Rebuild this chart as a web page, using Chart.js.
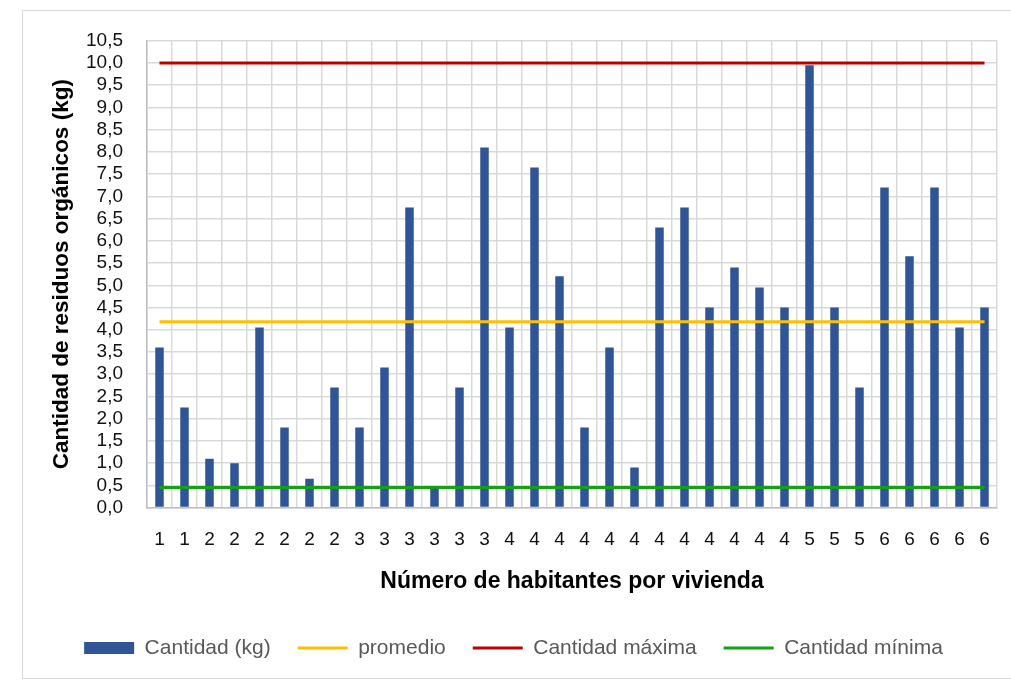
<!DOCTYPE html>
<html>
<head>
<meta charset="utf-8">
<script src="https://cdn.jsdelivr.net/npm/chart.js@4/dist/chart.umd.min.js"></script>
<style>
    html, body { margin: 0; padding: 0; background: #fff; }
    #wrap { position: relative; width: 1011px; height: 681px; }
</style>
</head>
<body>
<div id="wrap"><canvas id="chart"></canvas></div>
<script>
const habitantes = ['1', '1', '2', '2', '2', '2', '2', '2', '3', '3', '3', '3', '3', '3',
    '4', '4', '4', '4', '4', '4', '4', '4', '4', '4', '4', '4', '5', '5', '5', '6', '6', '6', '6', '6'];

const cantidad = [3.6, 2.25, 1.1, 1.0, 4.05, 1.8, 0.65, 2.7, 1.8, 3.15, 6.75, 0.45, 2.7, 8.1,
    4.05, 7.65, 5.2, 1.8, 3.6, 0.9, 6.3, 6.75, 4.5, 5.4, 4.95, 4.5, 9.95, 4.5, 2.7, 7.2,
    5.65, 7.2, 4.05, 4.5];

const promedio = [4.18, 4.18, 4.18, 4.18, 4.18, 4.18, 4.18, 4.18, 4.18, 4.18, 4.18, 4.18,
    4.18, 4.18, 4.18, 4.18, 4.18, 4.18, 4.18, 4.18, 4.18, 4.18, 4.18, 4.18, 4.18, 4.18,
    4.18, 4.18, 4.18, 4.18, 4.18, 4.18, 4.18, 4.18];

const maxima = [10, 10, 10, 10, 10, 10, 10, 10, 10, 10, 10, 10, 10, 10, 10, 10, 10,
    10, 10, 10, 10, 10, 10, 10, 10, 10, 10, 10, 10, 10, 10, 10, 10, 10];

const minima = [0.45, 0.45, 0.45, 0.45, 0.45, 0.45, 0.45, 0.45, 0.45, 0.45, 0.45, 0.45,
    0.45, 0.45, 0.45, 0.45, 0.45, 0.45, 0.45, 0.45, 0.45, 0.45, 0.45, 0.45, 0.45, 0.45,
    0.45, 0.45, 0.45, 0.45, 0.45, 0.45, 0.45, 0.45];

const fontFamily = "'Liberation Sans', Arial, sans-serif";
const gridColor = '#d9d9d9';

// light frame round the whole chart, like the Excel chart area
const framePlugin = {
    id: 'frame',
    beforeDraw(chart) {
        const ctx = chart.ctx;
        ctx.save();
        ctx.strokeStyle = '#d9d9d9';
        ctx.lineWidth = 1;
        ctx.strokeRect(22.5, 10.5, 990, 668);
        ctx.restore();
    }
};

new Chart(document.getElementById('chart'), {
    type: 'bar',
    data: {
        labels: habitantes,
        datasets: [
            {
                label: 'Cantidad (kg)',
                data: cantidad,
                backgroundColor: '#2f5597',
                borderWidth: 0,
                barPercentage: 0.34,
                categoryPercentage: 1,
                order: 1
            },
            {
                type: 'line',
                label: 'promedio',
                data: promedio,
                borderColor: '#ffc000',
                backgroundColor: '#ffc000',
                borderWidth: 3,
                pointRadius: 0,
                order: 0
            },
            {
                type: 'line',
                label: 'Cantidad máxima',
                data: maxima,
                borderColor: '#c00000',
                backgroundColor: '#c00000',
                borderWidth: 3,
                pointRadius: 0,
                order: 0
            },
            {
                type: 'line',
                label: 'Cantidad mínima',
                data: minima,
                borderColor: '#12a312',
                backgroundColor: '#12a312',
                borderWidth: 3,
                pointRadius: 0,
                order: 0
            }
        ]
    },
    options: {
        responsive: true,
        maintainAspectRatio: false,
        animation: false,
        layout: { padding: { left: 30, right: 14, top: 40.7, bottom: 12.5 } },
        plugins: {
            tooltip: { enabled: false },
            legend: {
                position: 'bottom',
                labels: {
                    usePointStyle: true,
                    pointStyleWidth: 50,
                    boxHeight: 12,
                    padding: 27,
                    color: '#595959',
                    font: { family: fontFamily, size: 21 },
                    generateLabels: chart => chart.data.datasets.map((ds, i) => ({
                        text: ds.label,
                        fillStyle: ds.backgroundColor,
                        strokeStyle: ds.type === 'line' ? ds.borderColor : ds.backgroundColor,
                        lineWidth: ds.type === 'line' ? 3 : 0,
                        pointStyle: ds.type === 'line' ? 'line' : 'rect',
                        fontColor: '#595959',
                        hidden: false,
                        datasetIndex: i
                    }))
                }
            }
        },
        scales: {
            x: {
                grid: { color: gridColor, lineWidth: 1.5, drawTicks: false, offset: true },
                border: { color: '#bfbfbf', width: 1.5 },
                ticks: {
                    autoSkip: false,
                    maxRotation: 0,
                    padding: 20.5,
                    color: '#111',
                    font: { family: fontFamily, size: 19 }
                },
                title: {
                    display: true,
                    text: 'Número de habitantes por vivienda',
                    color: '#000',
                    font: { family: fontFamily, size: 23, weight: 'bold' },
                    padding: { top: -3.5, bottom: 15 }
                }
            },
            y: {
                min: 0,
                max: 10.5,
                afterFit(scale) { scale.width = 117; },
                grid: { color: gridColor, lineWidth: 1.5, drawTicks: false },
                border: { color: '#bfbfbf', width: 1.5 },
                ticks: {
                    stepSize: 0.5,
                    autoSkip: false,
                    padding: 24,
                    color: '#111',
                    font: { family: fontFamily, size: 19 },
                    callback: v => v.toFixed(1).replace('.', ',')
                },
                title: {
                    display: true,
                    text: 'Cantidad de residuos orgánicos (kg)',
                    color: '#000',
                    font: { family: fontFamily, size: 22.5, weight: 'bold' },
                    padding: { top: 18, bottom: 0 }
                }
            }
        }
    },
    plugins: [framePlugin]
});
</script>
</body>
</html>
